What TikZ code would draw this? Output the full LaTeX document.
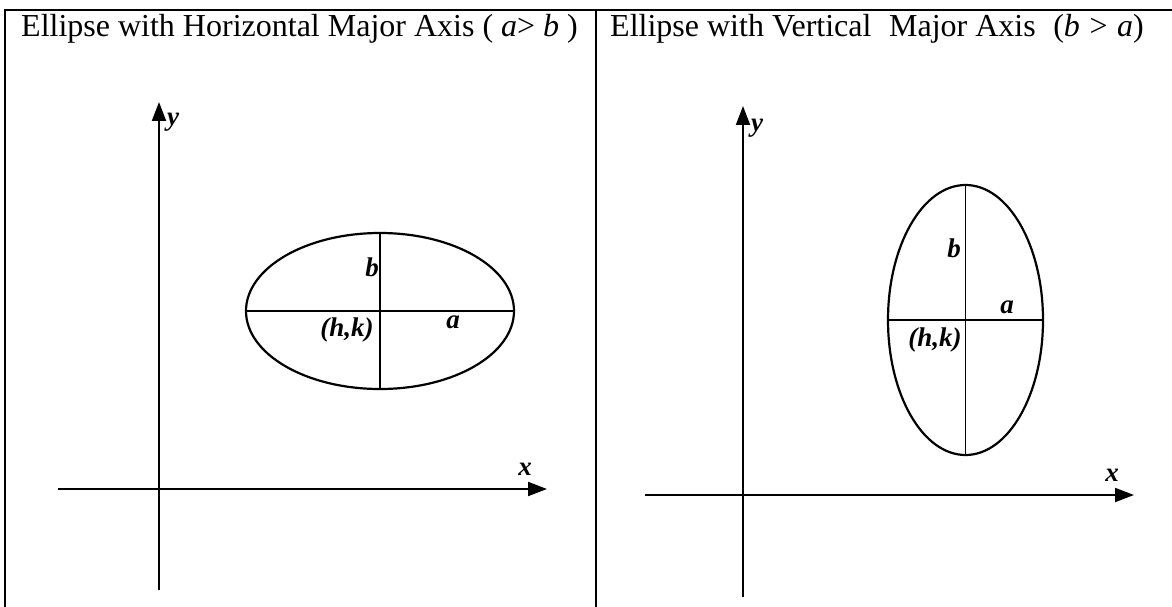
\documentclass[tikz,border=0pt]{standalone}
\usepackage{fontspec}
\setmainfont{Liberation Serif}
\usetikzlibrary{arrows.meta}
\begin{document}
\begin{tikzpicture}[x=1pt,y=-1pt,
  frame/.style={line width=2pt,line cap=rect},
  axis/.style={line width=2pt,-{Triangle[length=19pt,width=14pt]}},
  ell/.style={line width=2.2pt},
  half/.style={line width=1.2pt},
  lbl/.style={font=\fontsize{27}{27}\selectfont\bfseries\itshape,inner sep=0pt},
  ttl/.style={font=\fontsize{32}{32}\selectfont,inner sep=0pt,anchor=base west}]
\useasboundingbox (0,0) rectangle (1172,607);
% frame
\draw[frame] (5,607) -- (5,10) -- (1172,10);
\draw[frame] (596,10) -- (596,607);
% titles
\node[ttl] (t1) at (21,37) {Ellipse with Horizontal Major Axis ( \textit{a}> \textit{b} )};
\node[ttl] (t2) at (610,37) {Ellipse with Vertical\hspace{0.55em}Major Axis\hspace{0.55em}(\textit{b}\hspace{0.3em}>\hspace{0.3em}\textit{a})};
% left panel
\coordinate (ly0) at (159,590);
\coordinate (ly1) at (159,102);
\coordinate (lx0) at (58,489);
\coordinate (lx1) at (547,489);
\draw[axis] (ly0) -- (ly1);
\draw[axis] (lx0) -- (lx1);
\node[lbl] (ly) at (173,122) {y};
\node[lbl] (lx) at (525,469) {x};
\coordinate (lc) at (380,311);
\draw[ell] (lc) ellipse [x radius=134, y radius=78];
\draw[half] (246,311) -- (514,311);
\draw[half] (380,233) -- (380,389);
\node[lbl] (lb) at (372,267) {b};
\node[lbl] (lhk) at (347,330) {(h,k)};
\node[lbl] (la) at (453,322) {a};
% right panel
\coordinate (ry0) at (743,597);
\coordinate (ry1) at (743,106);
\coordinate (rx0) at (645,495);
\coordinate (rx1) at (1134,495);
\draw[axis] (ry0) -- (ry1);
\draw[axis] (rx0) -- (rx1);
\node[lbl] (ry) at (757,128) {y};
\node[lbl] (rx) at (1112,475) {x};
\coordinate (rc) at (965.5,320);
\draw[ell] (rc) ellipse [x radius=77.5, y radius=135];
\draw[half] (888,320) -- (1043,320);
\draw[half] (965.5,185) -- (965.5,455);
\node[lbl] (rb) at (954,248) {b};
\node[lbl] (ra) at (1007,307) {a};
\node[lbl] (rhk) at (935,340) {(h,k)};
\end{tikzpicture}
\end{document}
